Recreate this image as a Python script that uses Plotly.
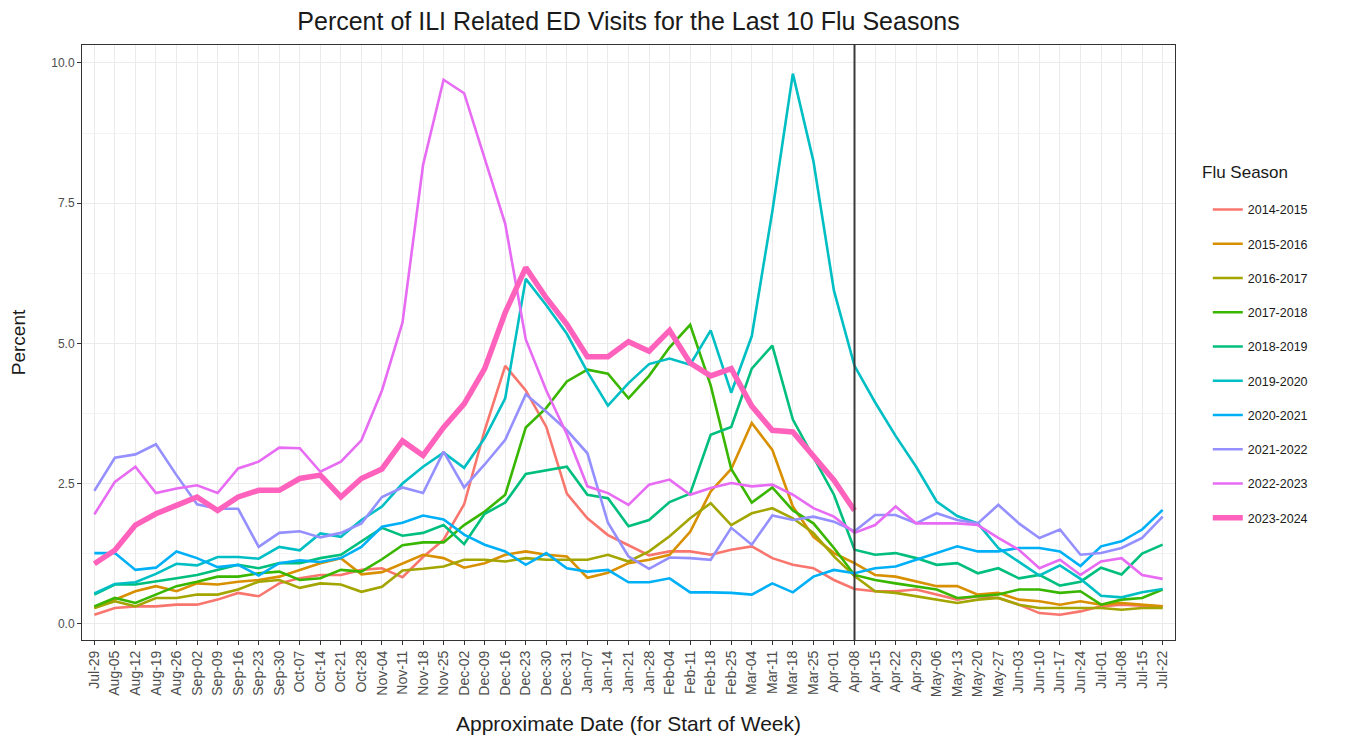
import plotly.graph_objects as go

weeks = ["Jul-29", "Aug-05", "Aug-12", "Aug-19", "Aug-26", "Sep-02", "Sep-09", "Sep-16", "Sep-23", "Sep-30",
         "Oct-07", "Oct-14", "Oct-21", "Oct-28", "Nov-04", "Nov-11", "Nov-18", "Nov-25", "Dec-02", "Dec-09",
         "Dec-16", "Dec-23", "Dec-30", "Dec-31", "Jan-07", "Jan-14", "Jan-21", "Jan-28", "Feb-04", "Feb-11",
         "Feb-18", "Feb-25", "Mar-04", "Mar-11", "Mar-18", "Mar-25", "Apr-01", "Apr-08", "Apr-15", "Apr-22",
         "Apr-29", "May-06", "May-13", "May-20", "May-27", "Jun-03", "Jun-10", "Jun-17", "Jun-24", "Jul-01",
         "Jul-08", "Jul-15", "Jul-22"]

s2014_2015 = [0.16, 0.28, 0.31, 0.31, 0.34, 0.34, 0.43, 0.55, 0.49, 0.72, 0.81, 0.87, 0.87, 0.96, 0.99, 0.83,
              1.19, 1.50, 2.13, 3.45, 4.60, 4.16, 3.51, 2.32, 1.88, 1.58, 1.40, 1.22, 1.29, 1.29, 1.23, 1.32,
              1.38, 1.17, 1.05, 0.99, 0.78, 0.62, 0.58, 0.58, 0.61, 0.52, 0.43, 0.49, 0.46, 0.34, 0.19, 0.16,
              0.22, 0.31, 0.34, 0.32, 0.31]
s2015_2016 = [0.28, 0.43, 0.58, 0.67, 0.58, 0.72, 0.70, 0.75, 0.78, 0.84, 0.96, 1.08, 1.17, 0.88, 0.92, 1.07,
              1.23, 1.17, 1.00, 1.08, 1.23, 1.29, 1.23, 1.20, 0.82, 0.91, 1.08, 1.14, 1.23, 1.64, 2.36, 2.76,
              3.58, 3.10, 2.09, 1.55, 1.26, 1.08, 0.87, 0.84, 0.75, 0.67, 0.67, 0.52, 0.55, 0.43, 0.40, 0.34,
              0.40, 0.34, 0.37, 0.34, 0.31]
s2016_2017 = [0.28, 0.40, 0.31, 0.46, 0.46, 0.52, 0.52, 0.61, 0.75, 0.78, 0.64, 0.72, 0.70, 0.57, 0.66, 0.95,
              0.98, 1.02, 1.14, 1.14, 1.11, 1.17, 1.14, 1.14, 1.14, 1.23, 1.11, 1.29, 1.56, 1.88, 2.15, 1.76,
              1.97, 2.06, 1.88, 1.62, 1.20, 0.85, 0.58, 0.55, 0.49, 0.43, 0.37, 0.43, 0.46, 0.34, 0.28, 0.28,
              0.28, 0.28, 0.25, 0.28, 0.28]
s2017_2018 = [0.31, 0.46, 0.37, 0.52, 0.67, 0.75, 0.84, 0.84, 0.90, 0.93, 0.78, 0.81, 0.96, 0.93, 1.15, 1.40,
              1.45, 1.45, 1.76, 2.00, 2.30, 3.50, 3.85, 4.32, 4.53, 4.46, 4.02, 4.42, 4.93, 5.33, 4.25, 2.76,
              2.16, 2.43, 2.02, 1.79, 1.35, 0.87, 0.78, 0.72, 0.67, 0.61, 0.46, 0.49, 0.52, 0.61, 0.61, 0.55,
              0.58, 0.34, 0.43, 0.46, 0.61]
s2018_2019 = [0.52, 0.70, 0.70, 0.75, 0.81, 0.87, 0.96, 1.05, 0.99, 1.08, 1.08, 1.17, 1.23, 1.47, 1.71, 1.57,
              1.62, 1.76, 1.42, 1.96, 2.16, 2.67, 2.74, 2.80, 2.30, 2.24, 1.74, 1.85, 2.17, 2.32, 3.37, 3.51,
              4.55, 4.96, 3.64, 2.97, 2.30, 1.32, 1.23, 1.26, 1.17, 1.05, 1.08, 0.90, 0.99, 0.81, 0.87, 0.68,
              0.75, 1.00, 0.88, 1.25, 1.41]
s2019_2020 = [0.54, 0.71, 0.74, 0.89, 1.07, 1.04, 1.19, 1.19, 1.16, 1.37, 1.31, 1.61, 1.55, 1.85, 2.09, 2.50,
              2.80, 3.05, 2.78, 3.31, 4.02, 6.15, 5.68, 5.17, 4.49, 3.89, 4.29, 4.63, 4.73, 4.62, 5.23, 4.12,
              5.13, 7.35, 9.81, 8.25, 5.94, 4.60, 3.95, 3.35, 2.80, 2.18, 1.92, 1.79, 1.35, 1.11, 0.86, 1.04,
              0.80, 0.50, 0.47, 0.56, 0.62]
s2020_2021 = [1.26, 1.26, 0.96, 1.00, 1.29, 1.17, 1.01, 1.05, 0.86, 1.08, 1.13, 1.10, 1.17, 1.37, 1.73, 1.80,
              1.93, 1.86, 1.59, 1.41, 1.29, 1.05, 1.26, 0.99, 0.93, 0.96, 0.74, 0.74, 0.81, 0.56, 0.56, 0.55,
              0.52, 0.72, 0.56, 0.84, 0.96, 0.90, 0.99, 1.02, 1.14, 1.26, 1.38, 1.29, 1.29, 1.35, 1.35, 1.29,
              1.03, 1.38, 1.47, 1.68, 2.03]
s2021_2022 = [2.37, 2.96, 3.02, 3.20, 2.65, 2.13, 2.05, 2.05, 1.37, 1.62, 1.65, 1.54, 1.62, 1.79, 2.26, 2.43,
              2.33, 3.07, 2.43, 2.84, 3.28, 4.09, 3.78, 3.45, 3.04, 1.80, 1.20, 0.98, 1.18, 1.17, 1.14, 1.71,
              1.41, 1.93, 1.85, 1.91, 1.82, 1.65, 1.94, 1.94, 1.79, 1.97, 1.85, 1.79, 2.12, 1.79, 1.53, 1.68,
              1.23, 1.26, 1.35, 1.53, 1.91]
s2022_2023 = [1.95, 2.53, 2.80, 2.33, 2.41, 2.47, 2.33, 2.77, 2.89, 3.14, 3.13, 2.71, 2.89, 3.27, 4.16, 5.37,
              8.18, 9.70, 9.46, 8.31, 7.13, 5.07, 4.16, 3.38, 2.45, 2.33, 2.12, 2.48, 2.57, 2.30, 2.42, 2.51,
              2.45, 2.48, 2.30, 2.06, 1.91, 1.62, 1.76, 2.09, 1.79, 1.79, 1.79, 1.76, 1.53, 1.32, 0.99, 1.14,
              0.87, 1.11, 1.17, 0.87, 0.80]
s2023_2024 = [1.07, 1.31, 1.76, 1.96, 2.11, 2.26, 2.02, 2.26, 2.38, 2.38, 2.59, 2.65, 2.26, 2.59, 2.76, 3.26,
              3.00, 3.50, 3.92, 4.55, 5.55, 6.35, 5.81, 5.34, 4.76, 4.76, 5.03, 4.86, 5.23, 4.65, 4.42, 4.55,
              3.88, 3.45, 3.42, 3.00, 2.56, 2.02]

seasons = ["2014-2015", "2015-2016", "2016-2017", "2017-2018", "2018-2019",
           "2019-2020", "2020-2021", "2021-2022", "2022-2023", "2023-2024"]
series = [s2014_2015, s2015_2016, s2016_2017, s2017_2018, s2018_2019,
          s2019_2020, s2020_2021, s2021_2022, s2022_2023, s2023_2024]
colors = ["#F8766D", "#D89000", "#A3A500", "#39B600", "#00BF7D",
          "#00BFC4", "#00B0F6", "#9590FF", "#E76BF3", "#FF62BC"]
current_season = "2023-2024"
current_week = "Apr-08"

fig = go.Figure()
for name, vals, col in zip(seasons, series, colors):
    fig.add_trace(go.Scatter(
        x=weeks[:len(vals)], y=vals, mode="lines", name=name, legendgroup=name,
        line=dict(color=col, width=5.5 if name == current_season else 2.6),
    ))

fig.add_shape(type="line", xref="x", yref="paper",
              x0=weeks.index(current_week), x1=weeks.index(current_week), y0=0, y1=1,
              line=dict(color="#3a3a3a", width=2))

W, H = 1342, 731
fig.update_layout(
    width=W, height=H,
    margin=dict(l=74, r=175, t=37, b=99),
    paper_bgcolor="white", plot_bgcolor="white",
    font=dict(family="Liberation Sans, Arial, sans-serif", color="#1a1a1a"),
    title=dict(text="Percent of ILI Related ED Visits for the Last 10 Flu Seasons",
               x=0.5, xref="paper", xanchor="center", y=1 - 13 / H, yref="container",
               yanchor="middle", font=dict(size=25, color="#1a1a1a")),
    showlegend=True,
    legend=dict(font=dict(size=12.5, color="#1a1a1a"),
                x=1.030, xanchor="left", y=0.748, yanchor="top", tracegroupgap=15,
                bgcolor="rgba(0,0,0,0)"),
    annotations=[dict(text="Flu Season", xref="paper", yref="paper", x=1.023, y=0.785,
                      xanchor="left", yanchor="middle", showarrow=False,
                      font=dict(size=17, color="#1a1a1a"))],
)
fig.update_xaxes(
    type="category", categoryorder="array", categoryarray=weeks,
    range=[-0.6, len(weeks) - 0.4],
    showgrid=True, gridcolor="#EBEBEB", gridwidth=1,
    showline=True, mirror=True, linecolor="#333333", linewidth=1,
    ticks="outside", ticklen=4, tickcolor="#333333", tickangle=-90,
    tickfont=dict(size=14, color="#4D4D4D"),
    title=dict(text="Approximate Date (for Start of Week)", font=dict(size=21, color="#1a1a1a"), standoff=20),
    zeroline=False, automargin=False,
)
fig.update_yaxes(
    range=[-0.29, 10.32], tickmode="array", tickvals=[0, 2.5, 5, 7.5, 10],
    ticktext=["0.0", "2.5", "5.0", "7.5", "10.0"],
    showgrid=True, gridcolor="#EBEBEB", gridwidth=1,
    minor=dict(tickmode="array", tickvals=[1.25, 3.75, 6.25, 8.75], showgrid=True,
               gridcolor="#F4F4F4", gridwidth=1, ticks=""),
    showline=True, mirror=True, linecolor="#333333", linewidth=1,
    ticks="outside", ticklen=4, tickcolor="#333333",
    tickfont=dict(size=12, color="#4D4D4D"),
    title=dict(text="Percent", font=dict(size=19, color="#1a1a1a"), standoff=20),
    zeroline=False, automargin=False,
)

fig.write_html("out.html")
